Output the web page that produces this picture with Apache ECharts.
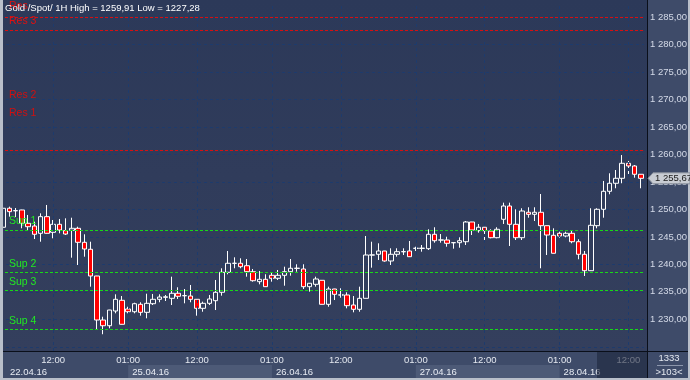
<!DOCTYPE html>
<html><head><meta charset="utf-8">
<script src="https://cdn.jsdelivr.net/npm/echarts@6/dist/echarts.min.js"></script>
<style>html,body{margin:0;padding:0;background:#3e4b69;}#c{width:690px;height:380px;}</style>
</head><body><div id="c"></div>
<script>
// ---- data ----
const openP  = [1246.76,1250.22,1249.75,1249.91,1247.48,1246.99,1245.66,1248.69,1245.84,1247.30,
1246.14,1246.21,1246.57,1244.02,1242.75,1237.89,1229.87,1228.83,1231.51,1233.46,
1231.88,1231.38,1232.73,1231.27,1232.84,1233.64,1234.00,1233.82,1234.74,1234.28,
1234.24,1233.64,1232.00,1232.91,1233.39,1234.92,1238.56,1240.18,1240.20,1239.76,
1238.67,1236.85,1237.28,1238.01,1237.47,1238.01,1238.67,1239.27,1239.16,1235.94,
1236.37,1237.10,1232.73,1235.52,1234.41,1234.43,1232.60,1231.82,1233.82,1241.69,
1241.84,1242.44,1240.62,1241.84,1242.29,1242.44,1242.91,1242.91,1242.86,1245.48,
1244.42,1244.44,1243.93,1243.95,1244.13,1247.72,1246.14,1246.76,1246.08,1244.86,
1248.21,1250.63,1247.30,1244.86,1249.49,1249.12,1249.49,1247.05,1245.30,1245.66,
1245.17,1245.66,1244.13,1241.84,1238.85,1247.05,1250.03,1253.31,1254.77,1255.68,
1258.41,1257.92,1256.41];
const closeP = [1250.22,1249.60,1249.80,1247.48,1246.86,1245.48,1248.69,1245.66,1247.30,1246.26,
1245.53,1246.57,1244.02,1242.80,1237.89,1229.87,1228.83,1231.69,1233.64,1229.09,
1231.38,1232.84,1231.27,1232.91,1233.64,1234.06,1234.10,1234.74,1234.19,1234.32,
1233.64,1232.00,1232.91,1233.70,1234.92,1238.56,1240.20,1240.22,1239.58,1238.67,
1237.03,1237.28,1235.94,1237.47,1238.01,1238.67,1239.29,1239.31,1235.94,1236.56,
1237.34,1232.73,1235.52,1234.55,1234.45,1232.48,1231.82,1233.82,1241.71,1241.73,
1242.44,1240.62,1241.84,1242.31,1242.33,1241.40,1242.95,1242.95,1245.48,1244.31,
1244.46,1243.84,1243.97,1244.31,1247.72,1246.26,1246.76,1246.14,1244.86,1246.39,
1250.63,1247.30,1244.86,1249.72,1249.12,1249.49,1247.05,1245.35,1242.02,1245.17,
1245.66,1244.13,1241.84,1238.85,1247.12,1250.03,1253.31,1254.77,1255.68,1258.41,
1257.92,1256.41,1255.67];
const lowP   = [1246.45,1248.69,1248.63,1246.57,1246.26,1244.62,1244.13,1245.60,1244.75,1245.66,
1245.35,1241.22,1239.89,1241.40,1235.94,1228.05,1227.28,1228.36,1231.09,1229.05,
1231.09,1231.09,1230.66,1230.18,1232.60,1233.10,1233.33,1232.60,1233.70,1232.91,
1233.10,1230.66,1231.38,1232.60,1231.69,1234.30,1238.20,1239.29,1239.29,1237.76,
1236.85,1236.37,1235.90,1236.85,1237.16,1236.12,1237.94,1238.67,1235.52,1235.03,
1235.94,1232.70,1232.29,1233.51,1233.93,1232.00,1231.27,1231.38,1233.80,1239.40,
1240.80,1240.49,1239.89,1241.40,1241.71,1241.38,1242.44,1242.31,1242.62,1243.95,
1243.95,1243.22,1242.86,1243.04,1243.53,1245.35,1245.77,1244.31,1244.75,1244.75,
1247.36,1243.35,1244.44,1244.44,1248.50,1247.90,1239.29,1241.71,1242.00,1244.86,
1244.93,1243.84,1240.93,1237.89,1238.83,1246.57,1248.50,1252.77,1253.86,1254.77,
1255.97,1255.79,1253.86];
const highP  = [1250.63,1250.51,1250.27,1249.95,1249.00,1247.78,1249.30,1250.82,1248.08,1248.27,
1248.39,1248.50,1246.86,1245.48,1244.13,1237.92,1230.47,1231.72,1234.55,1234.24,
1232.29,1233.02,1233.10,1234.66,1234.61,1234.55,1234.43,1237.76,1235.83,1235.52,
1236.25,1233.68,1233.21,1234.43,1237.16,1239.29,1242.44,1241.29,1241.11,1240.98,
1239.16,1238.80,1238.20,1238.56,1238.98,1239.58,1240.98,1240.02,1240.02,1236.60,
1237.76,1237.12,1235.94,1235.55,1235.65,1234.92,1234.24,1235.94,1245.17,1244.13,
1243.84,1242.46,1242.93,1242.93,1242.93,1244.26,1243.22,1243.53,1246.39,1246.76,
1245.53,1245.04,1244.00,1244.93,1247.90,1247.74,1247.36,1246.78,1246.39,1246.76,
1251.24,1251.24,1250.03,1250.22,1250.40,1250.40,1252.82,1247.07,1246.57,1245.95,
1245.95,1246.08,1244.57,1242.44,1250.22,1250.22,1255.19,1256.59,1257.19,1259.91,
1258.83,1258.10,1256.43];

const supLevels = [1246.26, 1238.56, 1235.28, 1228.18];
const supNames  = ['Sup 1', 'Sup 2', 'Sup 3', 'Sup 4'];
const resLevels = [1260.84, 1282.68, 1285.05];
const timeTickIdx  = [8, 20, 31, 43, 54, 66, 77, 89, 100];
const timeTickText = ['12:00','01:00','12:00','01:00','12:00','01:00','12:00','01:00','12:00'];
const dateTickIdx  = [0, 20, 43, 66, 89];
const dateTickText = ['22.04.16','25.04.16','26.04.16','27.04.16','28.04.16'];
const lastPrice = 1255.67;
const titleText = 'Gold /Spot/ 1H High = 1259,91 Low = 1227,28';
const barsText = '1333';
const visText = '>103<';

// ---- chart ----
const FONT = 'Liberation Sans, Arial, sans-serif';
const cats = openP.map((_, i) => 'b' + i);
const ohlc = openP.map((o, i) => [o, closeP[i], lowP[i], highP[i]]);
const fmt = v => {
  const s = v.toFixed(2).replace('.', ',');
  return s.replace(/^(\d)(\d{3})/, '$1 $2');
};
const tickMap = {};
timeTickIdx.forEach((i, k) => tickMap[i] = timeTickText[k]);

const chart = echarts.init(document.getElementById('c'), null, {renderer: 'canvas'});
const option = {
  animation: false,
  backgroundColor: '#3e4b69',
  grid: {left: -1.03, top: 3, width: 645.8, height: 348},
  xAxis: {
    type: 'category', data: cats, boundaryGap: true,
    axisLine: {show: false}, axisTick: {show: false},
    splitLine: {show: false},
    axisLabel: {
      interval: (i) => tickMap[i] !== undefined,
      formatter: (v, i) => tickMap[i] || '',
      color: '#e4e8f0', fontSize: 9.5, fontFamily: FONT, margin: 4
    }
  },
  yAxis: {
    type: 'value', position: 'right', min: 1224.227, max: 1287.6, splitNumber: 13,
    axisLine: {show: false}, axisTick: {show: false},
    axisLabel: {
      margin: 6, color: '#d4dae8', fontSize: 9.5, fontFamily: FONT,
      showMinLabel: false, showMaxLabel: false,
      formatter: v => (v < 1229 || v > 1286) ? '' : fmt(v)
    },
    splitLine: {show: true, showMinLine: false, showMaxLine: false,
      lineStyle: {color: '#1e3b6c', type: [3, 3], width: 1}}
  },
  series: [
    {
      type: 'line', data: [], z: 1, silent: true,
      markLine: {
        silent: true, symbol: 'none', label: {show: false},
        lineStyle: {color: '#1e3b6c', type: [3, 3], width: 1},
        data: timeTickIdx.map(i => ({xAxis: cats[i]}))
      }
    },
    {
      type: 'candlestick', data: ohlc, barWidth: 5, z: 3,
      itemStyle: {color: 'transparent', color0: '#ff0000',
        borderColor: '#ffffff', borderColor0: '#ffffff', borderWidth: 1},
      markLine: {
        silent: true, symbol: 'none', label: {show: false},
        data: supLevels.map(v => ({yAxis: v, lineStyle: {color: '#18d818', type: [3, 2], width: 1}}))
          .concat(resLevels.map(v => ({yAxis: v, lineStyle: {color: '#d81010', type: [3, 2], width: 1}})))
      }
    }
  ]
};
chart.setOption(option);

const px = i => chart.convertToPixel({xAxisIndex: 0}, cats[i]);
const py = v => chart.convertToPixel({yAxisIndex: 0}, v);
const g = [];
// plot background
g.push({type: 'rect', z: -10, shape: {x: 0, y: 0, width: 647, height: 351},
  style: {fill: new echarts.graphic.LinearGradient(0, 0, 0, 1, [
    {offset: 0, color: '#2c3959'}, {offset: 1, color: '#343f5d'}])}, silent: true});
// date bands
for (let k = 1; k < dateTickIdx.length - 1; k += 2) {
  const x0 = px(dateTickIdx[k]), x1 = px(dateTickIdx[k + 1]);
  g.push({type: 'rect', z: -9, shape: {x: x0, y: 365, width: x1 - x0, height: 13},
    style: {fill: '#4d5a77'}, silent: true});
}
dateTickIdx.forEach((i, k) => {
  const x = k === 0 ? 10 : px(i) + 4;
  g.push({type: 'text', z: 50, x: x, y: 372, style: {text: dateTickText[k], fill: '#e8ecf4',
    font: '9.5px ' + FONT, textVerticalAlign: 'middle', textAlign: 'left'}, silent: true});
});
// level labels
supLevels.forEach((v, k) => {
  g.push({type: 'text', z: 40, x: 9, y: py(v) - 8.5, style: {text: supNames[k], fill: '#22e822',
    font: '10.5px ' + FONT, textVerticalAlign: 'middle'}, silent: true});
});
g.push({type: 'text', z: 40, x: 9, y: py(resLevels[1]) - 8.5, style: {text: 'Res 3', fill: '#e01010',
  font: '10.5px ' + FONT, textVerticalAlign: 'middle'}, silent: true});
g.push({type: 'text', z: 40, x: 9, y: 95, style: {text: 'Res 2', fill: '#d01010',
  font: '10.5px ' + FONT, textVerticalAlign: 'middle'}, silent: true});
g.push({type: 'text', z: 40, x: 9, y: 113, style: {text: 'Res 1', fill: '#d01010',
  font: '10.5px ' + FONT, textVerticalAlign: 'middle'}, silent: true});
g.push({type: 'text', z: 40, x: 9, y: 6, style: {text: 'Res', fill: '#e01010',
  font: '10.5px ' + FONT, textVerticalAlign: 'middle'}, silent: true});
// title
g.push({type: 'text', z: 60, x: 5, y: 8, style: {text: titleText, fill: '#ffffff',
  font: '9.5px ' + FONT, textVerticalAlign: 'middle'}, silent: true});
// separators and frame
g.push({type: 'line', z: 100, shape: {x1: 647.5, y1: 0, x2: 647.5, y2: 380}, style: {stroke: '#0a0f1a', lineWidth: 1}, silent: true});
g.push({type: 'line', z: 100, shape: {x1: 0, y1: 351.5, x2: 690, y2: 351.5}, style: {stroke: '#0a0f1a', lineWidth: 1}, silent: true});
g.push({type: 'rect', z: 100, shape: {x: 0, y: 0, width: 3, height: 380}, style: {fill: '#b9bfca'}, silent: true});
g.push({type: 'rect', z: 100, shape: {x: 688, y: 0, width: 2, height: 380}, style: {fill: '#b9bfca'}, silent: true});
g.push({type: 'rect', z: 100, shape: {x: 0, y: 378, width: 690, height: 2}, style: {fill: '#b9bfca'}, silent: true});
// dim block on the last bars in the time axis
g.push({type: 'rect', z: 90, shape: {x: 597, y: 352, width: 50, height: 26}, style: {fill: 'rgba(30,38,60,0.6)'}, silent: true});
// corner info
g.push({type: 'text', z: 100, x: 669, y: 358, style: {text: barsText, fill: '#e4e8f0',
  font: '9.5px ' + FONT, textVerticalAlign: 'middle', textAlign: 'center'}, silent: true});
g.push({type: 'line', z: 100, shape: {x1: 657, y1: 365.5, x2: 683, y2: 365.5}, style: {stroke: '#8c96ac', lineWidth: 1}, silent: true});
g.push({type: 'text', z: 100, x: 669, y: 372, style: {text: visText, fill: '#e4e8f0',
  font: '9.5px ' + FONT, textVerticalAlign: 'middle', textAlign: 'center'}, silent: true});
// last price marker
const yl = py(lastPrice);
g.push({type: 'polygon', z: 110, shape: {points: [[648, yl], [653, yl - 5.5], [690, yl - 5.5], [690, yl + 5.5], [653, yl + 5.5]]},
  style: {fill: '#c8ccd3', stroke: '#8a909c', lineWidth: 1}, silent: true});
g.push({type: 'text', z: 111, x: 655, y: yl, style: {text: fmt(lastPrice), fill: '#1a1a1a',
  font: '9.5px ' + FONT, textVerticalAlign: 'middle'}, silent: true});
chart.setOption({graphic: {elements: g}});
</script></body></html>
